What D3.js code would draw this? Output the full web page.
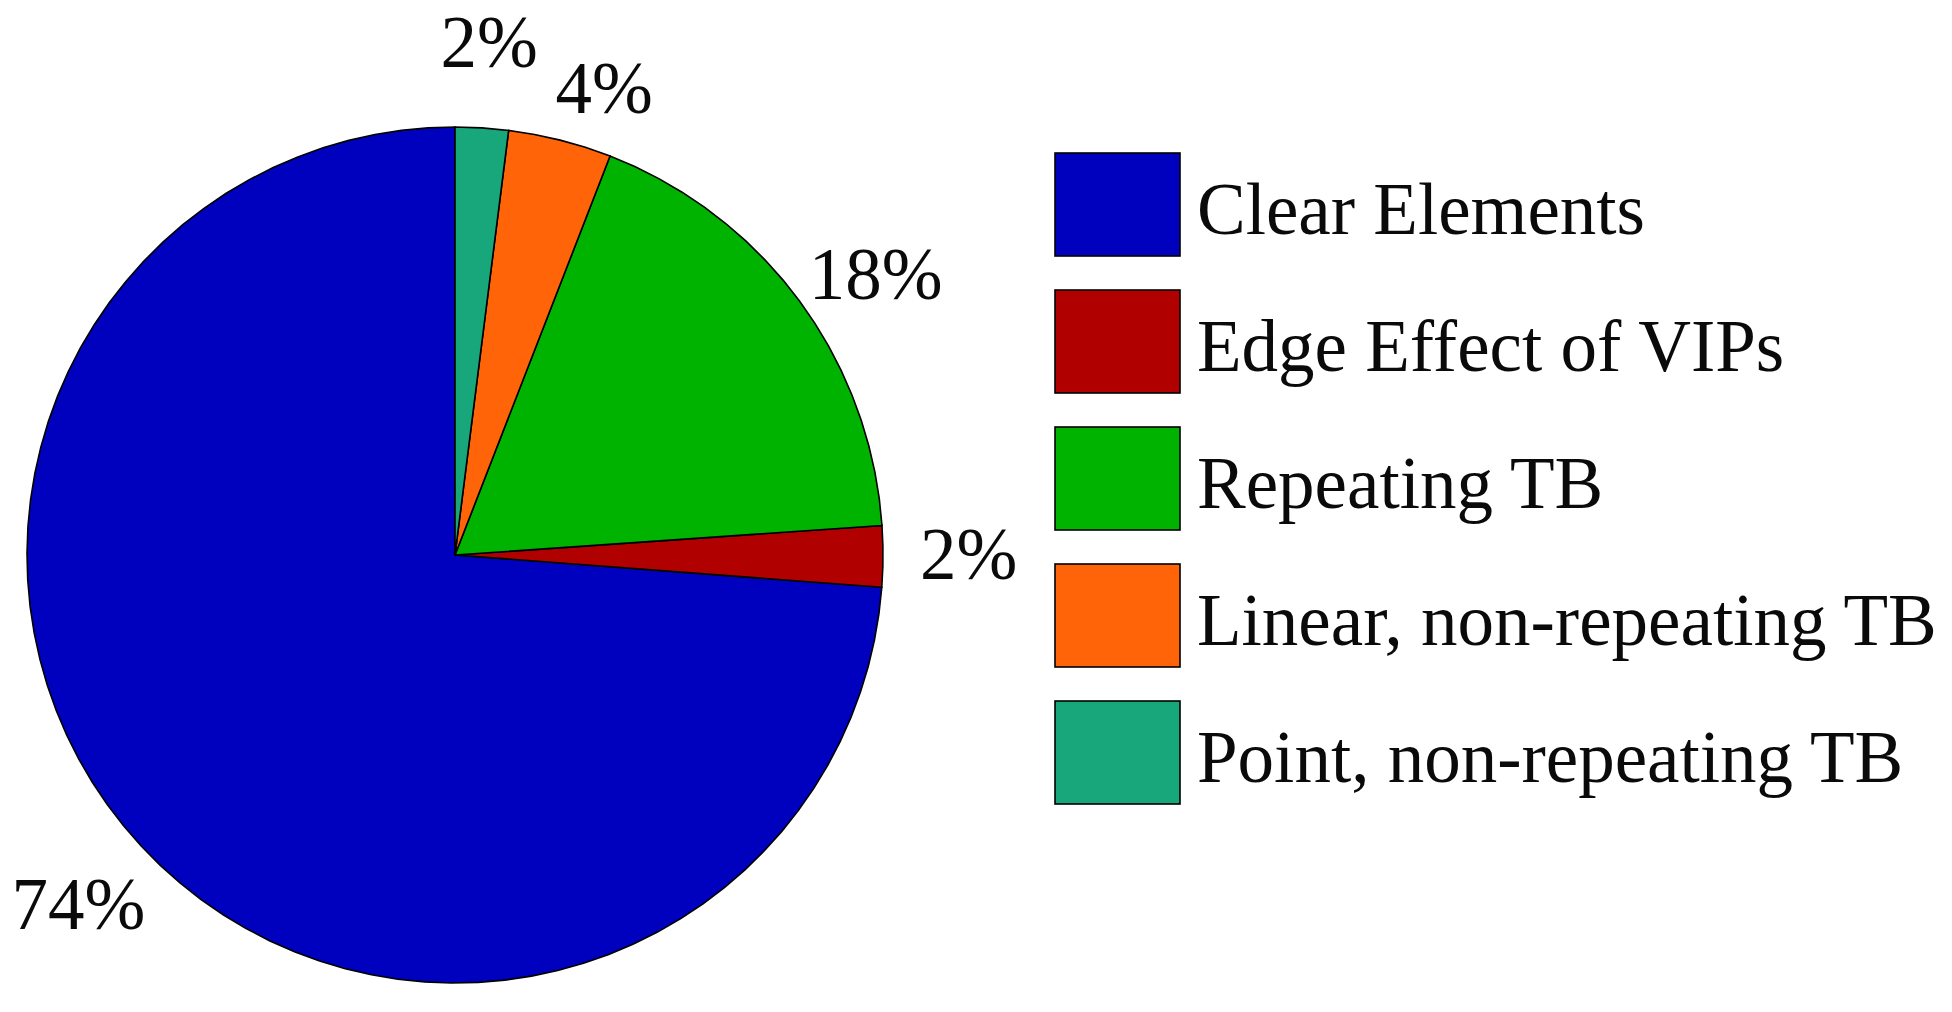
<!DOCTYPE html>
<html>
<head>
<meta charset="utf-8">
<script src="https://cdn.jsdelivr.net/npm/d3@7"></script>
<style>
  html, body { margin: 0; padding: 0; background: #fff; }
  svg { display: block; }
</style>
</head>
<body>
<script>
// ---- data ----
const categories = ["Clear Elements", "Edge Effect of VIPs", "Repeating TB", "Linear, non-repeating TB", "Point, non-repeating TB"];
const values = [73.8, 2.3, 18.0, 3.9, 2.0];
const labels = ["74%", "2%", "18%", "4%", "2%"];
const colors = ["#0000BF", "#B00000", "#00B300", "#FF6408", "#17A77A"];

// ---- layout ----
const W = 1952, H = 1012;
const cx = 455, cy = 555, R = 428;
const fontFamily = "'Liberation Serif', 'Times New Roman', serif";
const fontSize = 73;
// manual label nudges (pixels) applied after placing at 1.2 R on mid-angle
const labelNudge = [[0, 0], [0, -2], [7, 24], [23, 31], [2, 0]];

const svg = d3.select("body").append("svg").attr("width", W).attr("height", H);

const total = d3.sum(values);
// MATLAB-style pie: counterclockwise from 12 o'clock
const pie = d3.pie().sort(null).startAngle(0).endAngle(-2 * Math.PI);
const arcs = pie(values);

const pt = (a, r) => [cx + r * Math.sin(a), cy - r * Math.cos(a)];
const line = d3.line();

const g = svg.append("g");
arcs.forEach((d, i) => {
  const frac = values[i] / total;
  const n = Math.max(1, Math.ceil(100 * frac));
  const pts = [[cx, cy]];
  for (let k = 0; k <= n; k++) {
    const a = d.startAngle + (d.endAngle - d.startAngle) * k / n;
    pts.push(pt(a, R));
  }
  pts.push([cx, cy]);
  g.append("path")
    .attr("d", line(pts) + "Z")
    .attr("fill", colors[i])
    .attr("stroke", "#000")
    .attr("stroke-width", 1.6)
    .attr("stroke-linejoin", "miter");
});

// labels at 1.2 R on mid-angle
arcs.forEach((d, i) => {
  const mid = (d.startAngle + d.endAngle) / 2;
  const p = pt(mid, 1.2 * R);
  svg.append("text")
    .attr("x", p[0] + labelNudge[i][0]).attr("y", p[1] + labelNudge[i][1])
    .attr("text-anchor", "middle")
    .attr("dominant-baseline", "central")
    .attr("font-family", fontFamily)
    .attr("font-size", fontSize)
    .attr("fill", "#0a0a0a")
    .text(labels[i]);
});

// legend
const legX = 1055, legY = 153, boxW = 125, boxH = 103, step = 137;
const leg = svg.append("g");
categories.forEach((c, i) => {
  const y = legY + i * step;
  leg.append("rect")
    .attr("x", legX).attr("y", y)
    .attr("width", boxW).attr("height", boxH)
    .attr("fill", colors[i])
    .attr("stroke", "#000")
    .attr("stroke-width", 1.6);
  leg.append("text")
    .attr("x", legX + boxW + 17)
    .attr("y", y + boxH / 2 + 29)
    .attr("font-family", fontFamily)
    .attr("font-size", fontSize)
    .attr("fill", "#0a0a0a")
    .text(c);
});
</script>
</body>
</html>
